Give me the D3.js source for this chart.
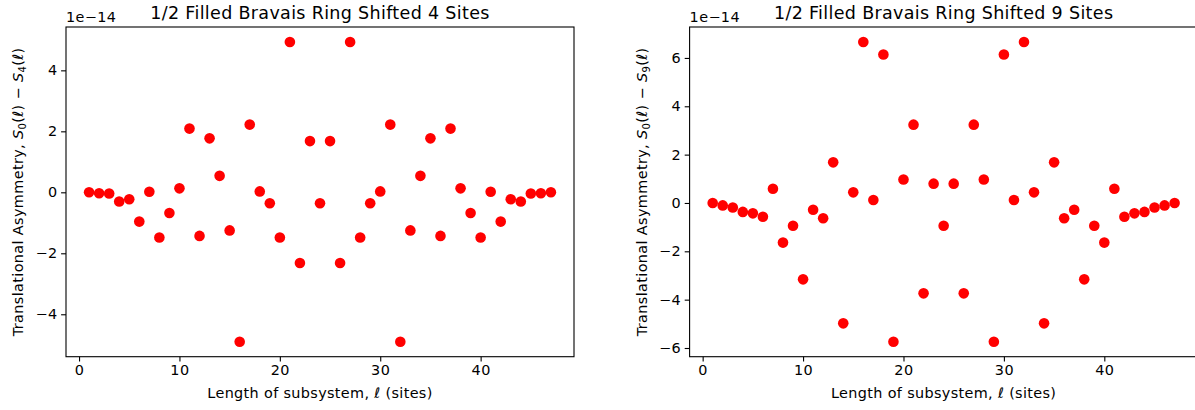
<!DOCTYPE html>
<html>
<head>
<meta charset="utf-8">
<script src="https://cdn.jsdelivr.net/npm/d3@7"></script>
<style>
  body { margin: 0; background: #fff; }
  svg text { font-family: "DejaVu Sans", sans-serif; fill: #000; }
  .tick text { font-size: 14.4px; letter-spacing: 0.5px; }
</style>
</head>
<body>
<div id="container"></div>
<script>
// subsystem lengths, 1 .. 47
var lengths = [1, 2, 3, 4, 5, 6, 7, 8, 9, 10, 11, 12, 13, 14, 15, 16, 17, 18, 19, 20,
  21, 22, 23, 24, 25, 26, 27, 28, 29, 30, 31, 32, 33, 34, 35, 36, 37, 38, 39, 40,
  41, 42, 43, 44, 45, 46, 47];

// S0 - S4, in units of 1e-14
var shift4 = [0.0, -0.03, -0.04, -0.30, -0.23, -0.96, 0.02, -1.48, -0.68, 0.13,
  2.09, -1.43, 1.77, 0.54, -1.25, -4.90, 2.22, 0.03, -0.36, -1.48,
  4.93, -2.32, 1.68, -0.36, 1.68, -2.32, 4.93, -1.48, -0.36, 0.03,
  2.22, -4.90, -1.25, 0.54, 1.77, -1.43, 2.09, 0.13, -0.68, -1.48,
  0.02, -0.96, -0.23, -0.30, -0.04, -0.03, 0.0];

// S0 - S9, in units of 1e-14
var shift9 = [0.0, -0.10, -0.19, -0.37, -0.43, -0.57, 0.59, -1.64, -0.94, -3.16,
  -0.28, -0.63, 1.68, -4.98, 0.44, 6.66, 0.12, 6.14, -5.74, 0.97,
  3.24, -3.74, 0.80, -0.94, 0.80, -3.74, 3.24, 0.97, -5.74, 6.14,
  0.12, 6.66, 0.44, -4.98, 1.68, -0.63, -0.28, -3.16, -0.94, -1.64,
  0.59, -0.57, -0.43, -0.37, -0.19, -0.10, 0.0];

var xTicks = [0, 10, 20, 30, 40];
var yTicks4 = [-4, -2, 0, 2, 4];
var yTicks9 = [-6, -4, -2, 0, 2, 4, 6];

var width = 1195;
var height = 410;
var topMargin = 27;
var bottomEdge = 356.7;

var svg = d3.select("#container")
  .append("svg")
  .attr("width", width)
  .attr("height", height);

// matplotlib style 5% padding around the data
function padded(values) {
  var ext = d3.extent(values);
  var pad = (ext[1] - ext[0]) * 0.05;
  return [ext[0] - pad, ext[1] + pad];
}

function fmt(d) {
  return d < 0 ? "\u2212" + Math.abs(d) : "" + d;
}

function drawPanel(left, right, values, yTicks, shift, labelX) {

  var x = d3.scaleLinear()
    .domain(padded(lengths))
    .range([left, right]);
  var y = d3.scaleLinear()
    .domain(padded(values))
    .range([bottomEdge, topMargin]);

  var g = svg.append("g");

  // points
  g.selectAll("circle")
    .data(values)
    .enter()
    .append("circle")
    .attr("cx", function(d, i) { return x(lengths[i]); })
    .attr("cy", function(d) { return y(d); })
    .attr("r", 5.3)
    .style("fill", "#ff0000");

  // axes
  var xAxis = d3.axisBottom(x)
    .tickValues(xTicks)
    .tickSize(4.9)
    .tickSizeOuter(0)
    .tickPadding(3.5)
    .tickFormat(fmt);
  var yAxis = d3.axisLeft(y)
    .tickValues(yTicks)
    .tickSize(4.9)
    .tickSizeOuter(0)
    .tickPadding(3.5)
    .tickFormat(fmt);

  g.append("g")
    .attr("transform", "translate(0," + bottomEdge + ")")
    .call(xAxis);
  g.append("g")
    .attr("transform", "translate(" + left + ",0)")
    .call(yAxis);
  g.selectAll(".domain").remove();
  g.selectAll(".tick line").attr("stroke", "#000").attr("stroke-width", 1.1);

  // frame
  g.append("rect")
    .attr("x", left)
    .attr("y", topMargin)
    .attr("width", right - left)
    .attr("height", bottomEdge - topMargin)
    .attr("fill", "none")
    .attr("stroke", "#000")
    .attr("stroke-width", 1.1);

  // offset text
  g.append("text")
    .attr("x", left)
    .attr("y", 22)
    .style("font-size", "14.4px")
    .style("letter-spacing", "0.4px")
    .text("1e\u221214");

  // title
  g.append("text")
    .attr("x", (left + right) / 2)
    .attr("y", 19)
    .style("text-anchor", "middle")
    .style("font-size", "17.5px")
    .style("letter-spacing", "0.33px")
    .text("1/2 Filled Bravais Ring Shifted " + shift + " Sites");

  // x label
  var xl = g.append("text")
    .attr("x", (left + right) / 2)
    .attr("y", 398)
    .style("text-anchor", "middle")
    .style("font-size", "14.4px")
    .style("letter-spacing", "0.35px");
  xl.append("tspan").text("Length of subsystem, ");
  xl.append("tspan").style("font-style", "italic").text("\u2113");
  xl.append("tspan").text(" (sites)");

  // y label
  var yl = g.append("text")
    .attr("transform", "translate(" + labelX + "," + ((topMargin + bottomEdge) / 2) + ") rotate(-90)")
    .style("text-anchor", "middle")
    .style("font-size", "14.4px")
    .style("letter-spacing", "0.38px");
  yl.append("tspan").text("Translational Asymmetry, ");
  yl.append("tspan").style("font-style", "italic").text("S");
  yl.append("tspan").attr("dy", 3).style("font-size", "10px").text("0");
  yl.append("tspan").attr("dy", -3).text("(");
  yl.append("tspan").style("font-style", "italic").text("\u2113");
  yl.append("tspan").text(") \u2212 ");
  yl.append("tspan").style("font-style", "italic").text("S");
  yl.append("tspan").attr("dy", 3).style("font-size", "10px").text(shift);
  yl.append("tspan").attr("dy", -3).text("(");
  yl.append("tspan").style("font-style", "italic").text("\u2113");
  yl.append("tspan").text(")");
}

drawPanel(66, 574, shift4, yTicks4, 4, 23);
drawPanel(689.6, 1197.7, shift9, yTicks9, 9, 647);
</script>
</body>
</html>
